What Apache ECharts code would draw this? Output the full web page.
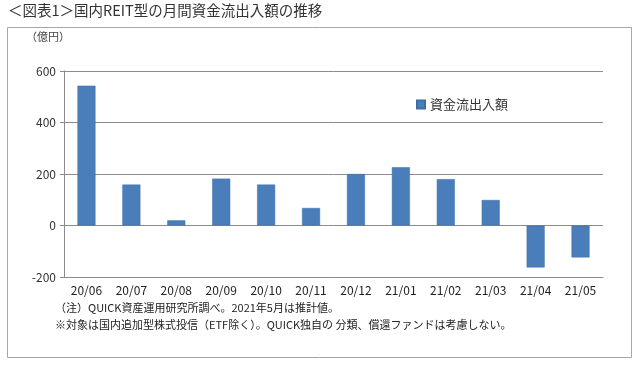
<!DOCTYPE html>
<html><head><meta charset="utf-8">
<script src="https://cdn.jsdelivr.net/npm/echarts@6/dist/echarts.min.js"></script>
<style>html,body{margin:0;padding:0;background:#fff}#c{width:638px;height:374px}</style>
</head><body><div id="c"></div>
<script>
const categories = ['20/06','20/07','20/08','20/09','20/10','20/11','20/12','21/01','21/02','21/03','21/04','21/05'];
const flows = [543, 159, 20, 182, 159, 68, 200, 226, 180, 99, -163, -124];
const seriesName = '資金流出入額';
const yTicks = {min: -200, max: 600, interval: 200};
const titleText = '＜図表1＞国内REIT型の月間資金流出入額の推移';
const unitText = '（億円）';
const note1 = '（注）QUICK資産運用研究所調べ。2021年5月は推計値。';
const note2 = '※対象は国内追加型株式投信（ETF除く）。QUICK独自の 分類、償還ファンドは考慮しない。';

const font = '"Noto Sans CJK JP", "Noto Sans", sans-serif';
const chart = echarts.init(document.getElementById('c'), null, {renderer: 'canvas'});
chart.setOption({
  animation: false,
  backgroundColor: '#fff',
  textStyle: {fontFamily: font},
  graphic: [
    {type: 'rect', shape: {x: 7.5, y: 27.5, width: 624, height: 330}, style: {fill: 'none', stroke: '#a6a6a6', lineWidth: 1}, z: -1},
    {type: 'text', left: 8, top: 3, style: {text: titleText, font: '14.5px ' + font, fill: '#333'}},
    {type: 'text', left: 26, top: 31, style: {text: unitText, font: '11px ' + font, fill: '#444'}},
    {type: 'text', left: 55, top: 302, style: {text: note1, font: '11px ' + font, fill: '#222'}},
    {type: 'text', left: 55, top: 319, style: {text: note2, font: '11px ' + font, fill: '#222'}}
  ],
  legend: {
    left: 411, top: 93, itemWidth: 8, itemHeight: 8, itemGap: 3, icon: 'rect',
    textStyle: {fontSize: 13, color: '#333', fontFamily: font},
    data: [seriesName]
  },
  grid: {left: 64, right: 35, top: 71, bottom: 97, containLabel: false},
  xAxis: {
    type: 'category', data: categories,
    axisLine: {onZero: false, show: true, lineStyle: {color: '#8c8c8c'}},
    axisTick: {show: false},
    axisLabel: {margin: 7, fontSize: 12, color: '#222', fontFamily: font, interval: 0}
  },
  yAxis: {
    type: 'value', min: yTicks.min, max: yTicks.max, interval: yTicks.interval,
    axisLine: {show: true, lineStyle: {color: '#8c8c8c'}},
    axisTick: {show: true, length: 4, lineStyle: {color: '#8c8c8c'}},
    splitLine: {show: true, lineStyle: {color: '#8c8c8c', width: 1}},
    axisLabel: {margin: 8, fontSize: 12, color: '#333', fontFamily: font}
  },
  series: [{
    name: seriesName, type: 'bar', data: flows, barWidth: 18,
    itemStyle: {color: '#4a7ebb', borderColor: '#3d6da6', borderWidth: 0.5}
  }]
});
</script></body></html>
